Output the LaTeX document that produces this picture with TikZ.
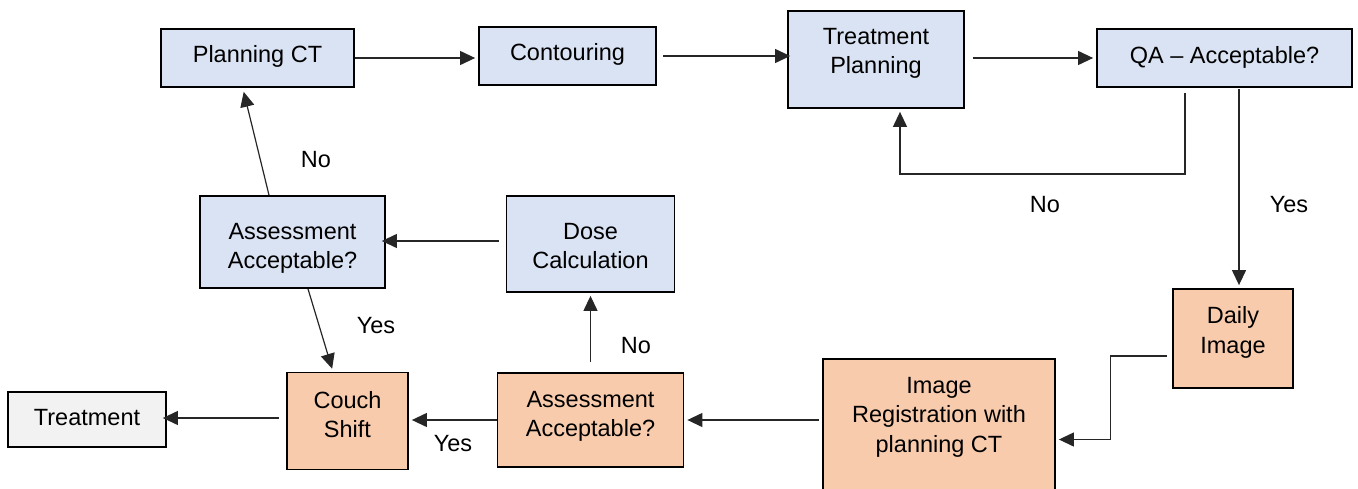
\documentclass[tikz,border=0pt]{standalone}
\usepackage{fontspec}
\setmainfont{Liberation Sans}
\usetikzlibrary{arrows.meta,calc}
\definecolor{blueF}{HTML}{DAE3F3}
\definecolor{orangeF}{HTML}{F8CBAD}
\definecolor{grayF}{HTML}{F2F2F2}
\begin{document}
\begin{tikzpicture}[x=1pt,y=-1pt,
  txt/.style={font=\fontsize{23.5}{29.5}\selectfont},
  box/.style={draw=black, line width=1.8pt, inner sep=0pt, align=center, txt},
  bluebox/.style={box, fill=blueF},
  orangebox/.style={box, fill=orangeF},
  graybox/.style={box, fill=grayF},
  boxtext/.style 2 args={label={[lbl, align=center, yshift=#2]center:{#1}}},
  conn/.style={line width=1.2pt, draw=black!85},
  arr/.style={conn, shorten >=3pt, -{Triangle[length=15pt,width=14pt]}},
  lbl/.style={txt, inner sep=0pt}]
\useasboundingbox (0,0) rectangle (1358,488);
\clip (0,0) rectangle (1358,488);
% nodes
\node[bluebox, minimum width=193pt, minimum height=58pt, boxtext={Planning CT}{2pt}] (pct) at (257.5,58) {};
\node[bluebox, minimum width=177pt, minimum height=58pt, boxtext={Contouring}{1.5pt}] (cont) at (567.5,56) {};
\node[bluebox, minimum width=176pt, minimum height=97pt, boxtext={Treatment\\Planning}{6pt}] (tp) at (876,59.5) {};
\node[bluebox, minimum width=255pt, minimum height=58pt, boxtext={QA -- Acceptable?}{1pt}] (qa) at (1224.5,58) {};
\node[bluebox, minimum width=185pt, minimum height=92pt, boxtext={Assessment\\Acceptable?}{-6.5pt}] (aab) at (292.5,242) {};
\node[bluebox, minimum width=168pt, minimum height=96pt, boxtext={Dose\\Calculation}{-2pt}] (dose) at (590.5,244) {};
\node[orangebox, minimum width=120pt, minimum height=99pt, boxtext={Daily\\Image}{6pt}] (daily) at (1233,338.5) {};
\node[orangebox, minimum width=232pt, minimum height=161pt,
  label={[lbl, align=center, anchor=north, yshift=-19pt]north:{Image\\Registration with\\planning CT}}] (ireg) at (939,439.5) {};
\node[orangebox, minimum width=186pt, minimum height=94pt, boxtext={Assessment\\Acceptable?}{3.5pt}] (aao) at (590.5,420) {};
\node[orangebox, minimum width=121pt, minimum height=97pt, boxtext={Couch\\Shift}{6.5pt}] (couch) at (347.5,421) {};
\node[graybox, minimum width=158pt, minimum height=55pt, boxtext={Treatment}{2pt}] (treat) at (87,419.5) {};
% connectors
\draw[arr] (pct.east) -- (pct.east -| cont.west);
\draw[arr] ([xshift=6pt]cont.east) -- ([xshift=6pt]cont.east -| tp.west);
\draw[arr] ([xshift=8pt]tp.east |- qa.west) -- (qa.west);
\coordinate (qn) at ([xshift=-39.5pt,yshift=-5pt]qa.south);
\draw[arr] (qn) -- ++(0,81) -| ([xshift=24pt]tp.south);
\draw[arr] ([xshift=14.5pt,yshift=-1pt]qa.south) -- ([xshift=14.5pt]qa.south |- daily.north);
\draw[arr] ([xshift=-5pt,yshift=-17.5pt]daily.west) -- ++(-57,0) |- (ireg.east);
\draw[arr] ([xshift=-3pt]ireg.west |- aao.east) -- (aao.east);
\draw[arr] ([yshift=10pt]aao.north) -- (dose.south);
\draw[arr] (aao.west) -- (aao.west -| couch.east);
\draw[arr] ([xshift=-7pt,yshift=3pt]couch.west) -- ([xshift=-7pt,yshift=3pt]couch.west -| treat.east);
\draw[arr] ([xshift=-7pt,yshift=3pt]dose.west) -- ([xshift=-7pt,yshift=3pt]dose.west -| aab.east);
\draw[arr] ([xshift=-23.5pt]aab.north) -- ([xshift=-14.5pt,yshift=-1pt]pct.south);
\draw[arr] ([xshift=15.5pt]aab.south) -- ([xshift=-14.5pt]couch.north);
% labels
\node[lbl] (l1) at (316,160) {No};
\node[lbl] (l2) at (376,326) {Yes};
\node[lbl] (l3) at (636,346) {No};
\node[lbl] (l4) at (453,444) {Yes};
\node[lbl] (l5) at (1045,205) {No};
\node[lbl] (l6) at (1289,205) {Yes};
\end{tikzpicture}
\end{document}
